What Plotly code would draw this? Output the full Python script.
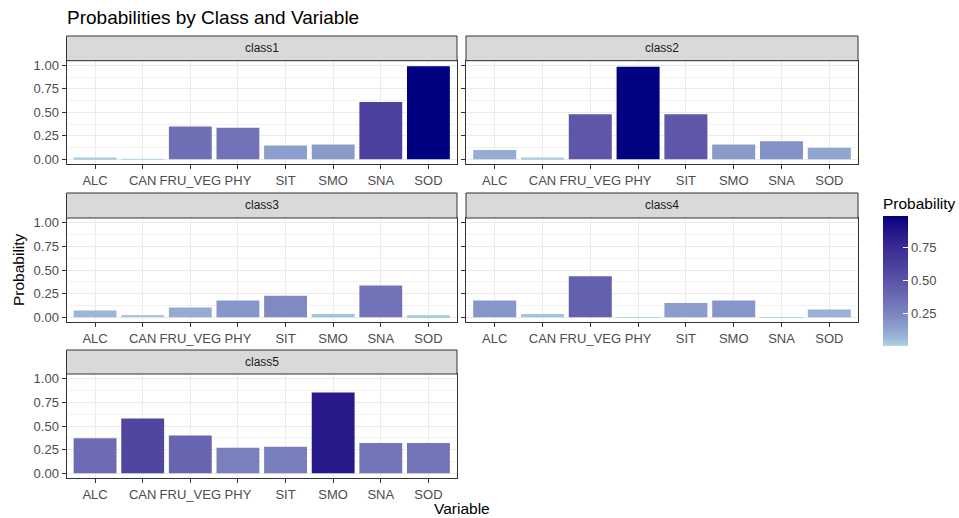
import plotly.graph_objects as go
import numpy as np

variables = ["ALC", "CAN", "FRU_VEG", "PHY", "SIT", "SMO", "SNA", "SOD"]
classes = ["class1", "class2", "class3", "class4", "class5"]
class1 = [0.02, 0.005, 0.35, 0.335, 0.147, 0.158, 0.61, 0.99]
class2 = [0.098, 0.018, 0.48, 0.985, 0.48, 0.158, 0.193, 0.123]
class3 = [0.071, 0.025, 0.103, 0.177, 0.227, 0.035, 0.337, 0.021]
class4 = [0.177, 0.035, 0.433, 0.0008, 0.152, 0.177, 0.001, 0.082]
class5 = [0.37, 0.58, 0.40, 0.27, 0.28, 0.855, 0.32, 0.32]
series = [class1, class2, class3, class4, class5]
cb_ticks = [0.25, 0.50, 0.75]

# ---- Lab-space gradient (like ggplot's scale_fill_gradient) ----
def hex2rgb(h):
    h = h.lstrip('#')
    return np.array([int(h[i:i+2], 16) / 255 for i in (0, 2, 4)])

def srgb2lin(c):
    return np.where(c <= 0.04045, c / 12.92, ((c + 0.055) / 1.055) ** 2.4)

def lin2srgb(c):
    return np.where(c <= 0.0031308, c * 12.92, 1.055 * np.power(np.clip(c, 0, None), 1 / 2.4) - 0.055)

M = np.array([[0.4124, 0.3576, 0.1805], [0.2126, 0.7152, 0.0722], [0.0193, 0.1192, 0.9505]])
Minv = np.linalg.inv(M)
WP = np.array([0.95047, 1.0, 1.08883])

def f(t):
    return np.where(t > (6/29) ** 3, np.cbrt(t), t / (3 * (6/29) ** 2) + 4/29)

def finv(t):
    return np.where(t > 6/29, t ** 3, 3 * (6/29) ** 2 * (t - 4/29))

def rgb2lab(rgb):
    xyz = M @ srgb2lin(rgb) / WP
    fx, fy, fz = f(xyz)
    return np.array([116 * fy - 16, 500 * (fx - fy), 200 * (fy - fz)])

def lab2rgb(lab):
    L, a, b = lab
    fy = (L + 16) / 116
    fx = fy + a / 500
    fz = fy - b / 200
    xyz = np.array([finv(fx), finv(fy), finv(fz)]) * WP
    rgb = lin2srgb(Minv @ xyz)
    return np.clip(rgb, 0, 1)

lo, hi = rgb2lab(hex2rgb("#ADD8E6")), rgb2lab(hex2rgb("#000080"))
colorscale = []
for t in np.linspace(0, 1, 26):
    tt = t ** 0.7
    r, g, b = lab2rgb(lo + (hi - lo) * tt)
    colorscale.append([float(t), f"rgb({int(round(r*255))},{int(round(g*255))},{int(round(b*255))})"])

all_vals = [v for s in series for v in s]
vmin, vmax = min(all_vals), max(all_vals)

W, H = 959, 518
FONT = "Liberation Sans, Arial, sans-serif"
TICK = 13
cols = [(66.5, 457.0), (466.0, 858.0)]
rows = [(36.0, 60.7, 164.0), (193.0, 218.0, 322.0), (350.0, 374.0, 478.0)]

fig = go.Figure()
layout = dict(
    width=W, height=H, margin=dict(l=0, r=0, t=0, b=0),
    paper_bgcolor="white", plot_bgcolor="white",
    font=dict(family=FONT, color="#4D4D4D", size=TICK),
    showlegend=False,
    coloraxis=dict(
        colorscale=colorscale, cmin=vmin, cmax=vmax,
        colorbar=dict(
            thickness=25, len=152, lenmode="pixels",
            x=883 / W, xanchor="left", y=1 - 194 / H, yanchor="top",
            outlinewidth=0, xpad=0, ypad=0,
            tickvals=cb_ticks, ticktext=[f"{t:.2f}" for t in cb_ticks],
            ticks="inside", ticklen=5, tickcolor="white", tickwidth=1,
            tickfont=dict(family=FONT, size=TICK, color="#4D4D4D"),
            title=dict(text="Probability", side="top", font=dict(family=FONT, size=15.5, color="black")),
        ),
    ),
)
shapes = []
annotations = []

for i, (cls, vals) in enumerate(zip(classes, series)):
    r, c = divmod(i, 2)
    x0, x1 = cols[c]
    st, pt, pb = rows[r]
    sfx = "" if i == 0 else str(i + 1)
    fig.add_trace(go.Bar(
        x=variables, y=vals, width=0.9,
        marker=dict(color=vals, coloraxis="coloraxis", line=dict(width=0)),
        xaxis="x" + sfx, yaxis="y" + sfx,
        hovertemplate="%{x}: %{y:.3f}<extra>" + cls + "</extra>",
    ))
    layout["xaxis" + sfx] = dict(
        domain=[x0 / W, x1 / W], anchor="y" + sfx,
        range=[-0.6, 7.6], type="category", categoryorder="array", categoryarray=variables,
        showgrid=True, gridcolor="#EBEBEB", gridwidth=1,
        showline=True, mirror=True, linecolor="#333333", linewidth=1,
        ticks="outside", ticklen=4, tickcolor="#333333", tickwidth=1,
        tickfont=dict(family=FONT, size=TICK, color="#4D4D4D"),
        zeroline=False, automargin=False, fixedrange=True,
    )
    layout["yaxis" + sfx] = dict(
        domain=[1 - pb / H, 1 - pt / H], anchor="x" + sfx,
        range=[-0.05, 1.05], tickvals=[0, 0.25, 0.5, 0.75, 1.0], tickformat=".2f",
        showticklabels=(c == 0),
        showgrid=True, gridcolor="#EBEBEB", gridwidth=1,
        minor=dict(tickvals=[0.125, 0.375, 0.625, 0.875], showgrid=True, gridcolor="#F2F2F2", gridwidth=0.6, ticks=""),
        showline=True, mirror=True, linecolor="#333333", linewidth=1,
        ticks="outside", ticklen=4, tickcolor="#333333", tickwidth=1,
        tickfont=dict(family=FONT, size=TICK, color="#4D4D4D"),
        zeroline=False, automargin=False, fixedrange=True,
    )
    shapes.append(dict(type="rect", xref="paper", yref="paper",
                       x0=x0 / W, x1=x1 / W, y0=1 - pt / H, y1=1 - st / H,
                       fillcolor="#D9D9D9", line=dict(color="#333333", width=1), layer="above"))
    annotations.append(dict(text=cls, xref="paper", yref="paper", showarrow=False,
                            x=(x0 + x1) / 2 / W, y=1 - (st + pt) / 2 / H,
                            xanchor="center", yanchor="middle",
                            font=dict(family=FONT, size=12, color="#1A1A1A")))

annotations.append(dict(text="Probabilities by Class and Variable", xref="paper", yref="paper",
                        x=65 / W, y=1 - 17 / H, xanchor="left", yanchor="middle", showarrow=False,
                        font=dict(family=FONT, size=19, color="black")))
annotations.append(dict(text="Variable", xref="paper", yref="paper",
                        x=462 / W, y=1 - 508 / H, xanchor="center", yanchor="middle", showarrow=False,
                        font=dict(family=FONT, size=15.5, color="black")))
annotations.append(dict(text="Probability", xref="paper", yref="paper", textangle=-90,
                        x=18 / W, y=1 - 270 / H, xanchor="center", yanchor="middle", showarrow=False,
                        font=dict(family=FONT, size=15.5, color="black")))

layout["shapes"] = shapes
layout["annotations"] = annotations
fig.update_layout(**layout)
fig.write_html("out.html")
